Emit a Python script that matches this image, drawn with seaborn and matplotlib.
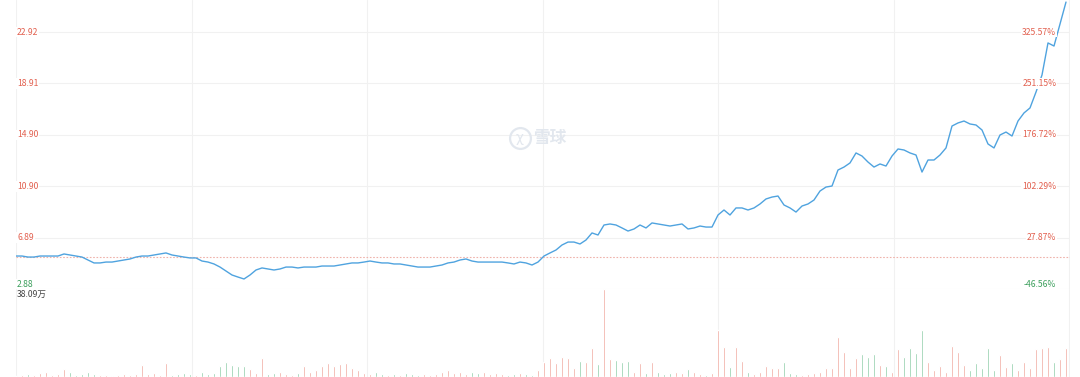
import numpy as np
import pandas as pd
import matplotlib
matplotlib.use("Agg")
import matplotlib.pyplot as plt
import seaborn as sns
from matplotlib.ticker import MultipleLocator

# daily close prices
price = [
    5.45, 5.45, 5.37, 5.37, 5.45, 5.45, 5.45, 5.45, 5.61, 5.53,
    5.45, 5.37, 5.14, 4.91, 4.91, 4.98, 4.98, 5.06, 5.14, 5.22,
    5.37, 5.45, 5.45, 5.53, 5.61, 5.69, 5.53, 5.45, 5.37, 5.30,
    5.30, 5.06, 4.98, 4.83, 4.59, 4.28, 3.97, 3.81, 3.66, 3.97,
    4.36, 4.52, 4.44, 4.36, 4.44, 4.59, 4.59, 4.52, 4.59, 4.59,
    4.59, 4.67, 4.67, 4.67, 4.75, 4.83, 4.91, 4.91, 4.98, 5.06,
    4.98, 4.91, 4.91, 4.83, 4.83, 4.75, 4.67, 4.59, 4.59, 4.59,
    4.67, 4.75, 4.91, 4.98, 5.14, 5.22, 5.06, 4.98, 4.98, 4.98,
    4.98, 4.98, 4.91, 4.83, 4.98, 4.91, 4.75, 4.98, 5.45, 5.69,
    5.92, 6.31, 6.54, 6.54, 6.39, 6.70, 7.25, 7.09, 7.87, 7.95,
    7.87, 7.64, 7.40, 7.56, 7.87, 7.64, 8.03, 7.95, 7.87, 7.79,
    7.87, 7.95, 7.56, 7.64, 7.79, 7.71, 7.71, 8.65, 9.04, 8.65,
    9.20, 9.20, 9.04, 9.20, 9.51, 9.90, 10.05, 10.13, 9.43, 9.20,
    8.88, 9.35, 9.51, 9.82, 10.52, 10.83, 10.91, 12.16, 12.39, 12.71,
    13.49, 13.25, 12.78, 12.39, 12.63, 12.47, 13.25, 13.80, 13.72, 13.49,
    13.33, 12.00, 12.94, 12.94, 13.33, 13.88, 15.59, 15.83, 15.98, 15.75,
    15.67, 15.28, 14.19, 13.88, 14.89, 15.12, 14.81, 15.98, 16.61, 17.00,
    18.24, 19.57, 22.07, 21.83, 23.55, 25.26,
]

# daily volume, unit: 万 shares
volume = [
    0.4, 0.9, 1.3, 0.9, 1.7, 2.2, 0.9, 1.3, 3.5, 2.2,
    0.9, 1.3, 2.2, 1.3, 0.9, 0.9, 0.4, 0.9, 1.3, 0.9,
    1.3, 5.2, 1.3, 1.7, 0.9, 6.1, 0.9, 1.3, 1.7, 1.3,
    0.9, 2.2, 1.3, 1.7, 4.8, 6.5, 5.2, 4.8, 4.8, 3.5,
    1.7, 8.2, 1.3, 1.7, 2.2, 1.3, 0.9, 1.7, 4.8, 2.2,
    3.0, 4.8, 6.1, 4.8, 5.6, 6.1, 3.9, 3.0, 1.7, 1.3,
    2.2, 1.3, 0.9, 1.3, 0.9, 1.7, 1.3, 0.9, 1.3, 0.9,
    1.3, 2.2, 3.0, 1.7, 2.2, 1.3, 2.2, 1.7, 2.2, 1.3,
    1.7, 1.3, 0.9, 1.3, 1.7, 1.3, 0.9, 3.0, 6.5, 8.2,
    6.1, 8.7, 8.2, 3.9, 6.9, 6.5, 12.6, 5.6, 38.09, 7.8,
    7.4, 6.5, 6.9, 2.2, 6.1, 1.7, 6.5, 2.2, 1.3, 1.7,
    2.2, 1.7, 3.5, 2.2, 1.3, 0.9, 1.7, 20.3, 13.0, 4.3,
    13.0, 6.9, 2.2, 1.3, 2.2, 4.8, 3.9, 3.9, 6.5, 1.7,
    1.3, 0.9, 1.3, 1.7, 2.2, 3.9, 3.9, 17.3, 10.8, 3.9,
    8.2, 10.0, 8.7, 10.0, 5.2, 4.8, 2.2, 12.1, 8.7, 12.6,
    10.4, 20.3, 6.5, 3.0, 4.8, 2.2, 13.4, 10.8, 5.2, 3.0,
    6.1, 3.9, 12.6, 3.0, 9.5, 4.3, 6.1, 3.0, 6.5, 3.9,
    12.1, 12.6, 13.0, 6.5, 7.8, 12.6,
]

base_price = 5.39
price_ticks = [2.88, 6.89, 10.90, 14.90, 18.91, 22.92]
price_labels = ["2.88", "6.89", "10.90", "14.90", "18.91", "22.92"]
pct_labels = ["-46.56%", "27.87%", "102.29%", "176.72%", "251.15%", "325.57%"]
vol_max_label = "38.09万"

RED = "#e2604f"
GREEN = "#3c9f5c"
LINE = "#4fa3df"
GRID = "#f1f1f1"

sns.set_style("white")
plt.rcParams["font.family"] = ["Noto Sans CJK SC", "DejaVu Sans"]

idx = np.arange(len(price))
df = pd.DataFrame({"day": idx, "price": price, "vol": volume})
chg = np.diff(np.r_[price[0], price])
df["dir"] = np.where(chg >= 0, "up", "down")

W, H = 1080, 377
fig = plt.figure(figsize=(W / 100, H / 100), dpi=100)
left, right = 16, 1070
ax = fig.add_axes([left / W, 1 - 290 / H, (right - left) / W, 290 / H])
ax2 = fig.add_axes([left / W, 0, (right - left) / W, 88 / H])

xmax = (right - left) / 6

# PRICE
sns.lineplot(data=df, x="day", y="price", ax=ax, color=LINE, lw=1.0)
ax.axhline(base_price, color="#efb3ab", lw=0.8, ls=(0, (1.5, 1.5)), zorder=1)
ax.set_xlim(0, xmax)
ax.set_ylim(2.80, 25.42)
ax.set_yticks(price_ticks)
ax.xaxis.set_major_locator(MultipleLocator(29.25))
ax.grid(True, color=GRID, lw=0.8)
ax.tick_params(length=0, labelleft=False, labelbottom=False)
ax.set_xlabel("")
ax.set_ylabel("")
for s in ax.spines.values():
    s.set_visible(False)

tr = ax.get_yaxis_transform()
for i, (v, lab, pct) in enumerate(zip(price_ticks, price_labels, pct_labels)):
    col = GREEN if v < base_price else RED
    va = "bottom" if i == 0 else "center"
    ax.text(0.001, v, lab, transform=tr, fontsize=6.2, color=col, ha="left", va=va,
            bbox=dict(facecolor="white", edgecolor="none", pad=0.6))
    ax.text(0.987, v, pct, transform=tr, fontsize=6.2, color=col, ha="right", va=va,
            bbox=dict(facecolor="white", edgecolor="none", pad=0.6))

# watermark
ax.plot([0.478], [0.525], transform=ax.transAxes, marker="o", ms=15, mfc="none",
        mec="#e2e7ee", mew=1.6)
ax.text(0.478, 0.525, "χ", transform=ax.transAxes, fontsize=10, color="#e2e7ee",
        ha="center", va="center", family=["DejaVu Sans"])
ax.text(0.491, 0.525, "雪球", transform=ax.transAxes, fontsize=12, color="#e2e7ee",
        ha="left", va="center", fontweight="bold")

# VOLUME
sns.barplot(data=df, x="day", y="vol", hue="dir", palette={"up": "#ee9b90", "down": "#7cc59a"},
            native_scale=True, width=0.3, dodge=False, legend=False, saturation=1, ax=ax2)
ax2.set_xlim(0, xmax)
ax2.set_ylim(0, 38.09)
ax2.xaxis.set_major_locator(MultipleLocator(29.25))
ax2.set_yticks([])
ax2.grid(True, axis="x", color=GRID, lw=0.8)
ax2.tick_params(length=0, labelleft=False, labelbottom=False)
ax2.set_xlabel("")
ax2.set_ylabel("")
for s in ax2.spines.values():
    s.set_visible(False)
ax2.text(0.001, 0.99, vol_max_label, transform=ax2.transAxes, fontsize=6.2, color="#444444",
         ha="left", va="top")

fig.savefig("out.png", dpi=100, facecolor="white")
